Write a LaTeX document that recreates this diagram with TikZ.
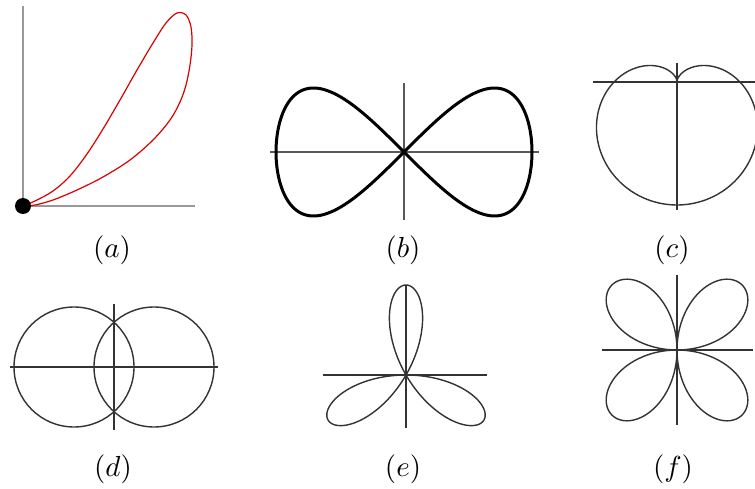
\documentclass[tikz,border=0pt]{standalone}
\usepackage{graphicx}
\newcommand{\biglab}[1]{\scalebox{2.9}{$(#1)$}}
\begin{document}
\begin{tikzpicture}[x=1pt,y=-1pt,
  axis/.style={line width=1.5pt,draw=black!80},
  curve/.style={line width=1.4pt,draw=black!80},
  lab/.style={anchor=base,inner sep=0pt}]
\useasboundingbox[fill=white] (0,0) rectangle (755,489);
% (a)
\coordinate (oa) at (23,206);
\draw[line width=2pt,draw=black!40] (23,6) -- (oa) -- (195,206);
\draw[red!85!black,line width=1.2pt] plot[smooth,tension=0.55] coordinates {
 (23,206) (35,201) (53,191) (70,176) (87,154) (103,129) (120,100) (137,70) (153,43) (166,23) (177,13) (186,15) (191,27) (192,45) (190,65) (186,85) (180,102) (170,120) (153,140) (130,160) (103,177) (77,190) (53,200) (35,205) (23,206)};
\fill (oa) circle[radius=8];
% (b)
\coordinate (ob) at (404,152);
\draw[axis,draw=black!65,line width=2pt] (270,152) -- (539,152);
\draw[axis,draw=black!65,line width=2pt] (404,83) -- (404,220);
\begin{scope}[shift={(ob)},y=1pt]
\draw[line width=3pt,line join=round] plot[domain=0:360,samples=240,smooth] ({128*cos(\x)},{128*sin(\x)*cos(\x)}) -- cycle;
\end{scope}
% (c)
\coordinate (oc) at (677,81);
\draw[axis] (593,82) -- (755,82);
\draw[axis] (677,63) -- (677,210);
\begin{scope}[shift={(oc)},y=1pt]
\draw[curve] plot[domain=0:360,samples=240,smooth] ({62*(1-sin(\x))*cos(\x)},{62*(1-sin(\x))*sin(\x)});
\end{scope}
% (d)
\coordinate (od) at (114,367);
\draw[axis] (10,367) -- (218,367);
\draw[axis] (114,304) -- (114,430);
\draw[curve] (74,367) circle[radius=60];
\draw[curve] (154,367) circle[radius=60];
% (e)
\coordinate (oe) at (406,375);
\draw[axis] (323,375) -- (487,375);
\draw[axis] (406,285) -- (406,428);
\begin{scope}[shift={(oe)},y=1pt]
\draw[curve] plot[domain=0:180,samples=300,smooth] ({-90*sin(3*\x)*cos(\x)},{-90*sin(3*\x)*sin(\x)});
\end{scope}
% (f)
\coordinate (of) at (677,350);
\draw[axis] (602,350) -- (753,350);
\draw[axis] (677,275) -- (677,425);
\begin{scope}[shift={(of)},y=1pt]
\draw[curve] plot[domain=0:360,samples=360,smooth] ({92*sin(2*\x)*cos(\x)},{92*sin(2*\x)*sin(\x)});
\end{scope}
% labels
\node[lab] (la) at (112,258) {\biglab{a}};
\node[lab] (lb) at (403,258) {\biglab{b}};
\node[lab] (lc) at (672,258) {\biglab{c}};
\node[lab] (ld) at (113,476) {\biglab{d}};
\node[lab] (le) at (403,476) {\biglab{e}};
\node[lab] (lf) at (673,476) {\biglab{f}};
\end{tikzpicture}
\end{document}
